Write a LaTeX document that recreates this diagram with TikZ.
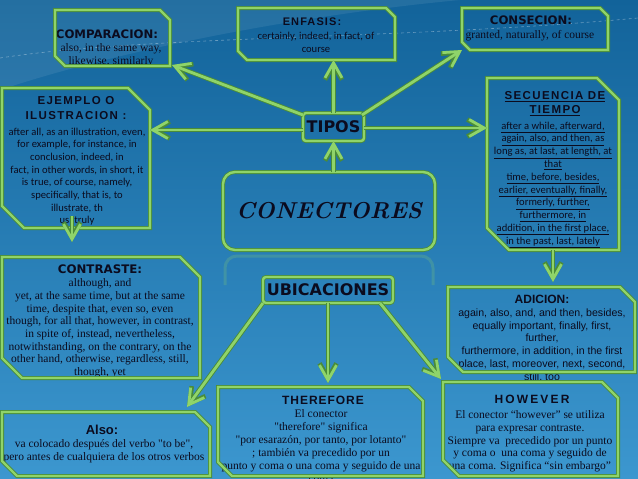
\documentclass[tikz,border=0pt]{standalone}
\usepackage{fontspec}
\newfontfamily\tnr{Liberation Serif}
\newfontfamily\calib{Carlito}
\newfontfamily\arial{Liberation Sans}
\newfontfamily\heavy{DejaVu Sans}
\usetikzlibrary{arrows.meta,calc}
\definecolor{lgreen}{HTML}{8FD46A}
\definecolor{dgreen}{HTML}{4A8C38}
\definecolor{bgtop}{HTML}{12639A}
\definecolor{bgmid}{HTML}{2A80BA}
\definecolor{bgbot}{HTML}{3C97CF}
\definecolor{ink}{HTML}{0B0B1E}
\newcommand\chamfbox[2]{%
  \draw[boxline] (#1.north west) -- ([xshift=-#2pt]#1.north east) -- ([yshift=-#2pt]#1.north east)
    -- (#1.south east) -- ([xshift=#2pt]#1.south west) -- ([yshift=#2pt]#1.south west) -- cycle;}
\begin{document}
\begin{tikzpicture}[x=1pt,y=-1pt,
  boxn/.style={rectangle, inner sep=0pt, outer sep=0pt},
  boxline/.style={draw=dgreen, line width=0.8pt, double=lgreen, double distance=2.4pt, line join=miter},
  rbox/.style={boxn, boxline},
  txt/.style={inner sep=0pt, align=center, text=ink},
  serif/.style={txt, anchor=north, font=\tnr\fontsize{11.5}{12.7}\selectfont},
  calb/.style={txt, anchor=north, font=\calib\fontsize{10.6}{12.7}\selectfont},
  arl/.style={txt, anchor=north, font=\arial\fontsize{10.6}{12.8}\selectfont},
  heavyt/.style={txt, font=\heavy\bfseries\fontsize{11.7}{13}\selectfont},
  arialt/.style={txt, font=\arial\bfseries\fontsize{12}{14}\selectfont},
  arrowtip/.style={-{Straight Barb[length=15pt,width=17pt]}},
  conn/.style={lgreen, line width=2.8pt, arrowtip,
    preaction={draw=dgreen, line width=4.6pt, arrowtip}}
]
\useasboundingbox (0,0) rectangle (638,479);
% background
\shade[top color=bgtop, middle color=bgmid, bottom color=bgbot] (0,0) rectangle (638,479);
\fill[white, opacity=0.08] (0,0) -- (0,90) .. controls (120,50) and (300,15) .. (460,0) -- cycle;
\draw[white, opacity=0.35, dashed, line width=0.6pt] (0,58) .. controls (150,35) and (400,40) .. (638,18);
% reflection of main box
\draw[lgreen, opacity=0.22, line width=3pt, rounded corners=12pt] (225,285) -- (225,256) -- (433,256) -- (433,285);

% box nodes
\node[boxn, minimum width=115pt, minimum height=56pt] (comparacion) at (112.5,38) {};
\node[boxn, minimum width=148pt, minimum height=140pt] (ejemplo) at (76,158) {};
\node[boxn, minimum width=157pt, minimum height=52pt] (enfasis) at (316.5,34) {};
\node[boxn, minimum width=146pt, minimum height=42pt] (consecion) at (535,29) {};
\node[boxn, minimum width=132pt, minimum height=172pt] (secuencia) at (553,164) {};
\node[boxn, minimum width=198pt, minimum height=121pt] (contraste) at (101,317.5) {};
\node[boxn, minimum width=187pt, minimum height=85pt] (adicion) at (541.5,329.5) {};
\node[boxn, minimum width=208pt, minimum height=64pt] (also) at (106,444) {};
\node[boxn, minimum width=205pt, minimum height=89pt] (therefore) at (320.5,431.5) {};
\node[boxn, minimum width=175pt, minimum height=94pt] (however) at (530.5,429) {};

% texts
\node[heavyt] (tcomp) at (107,34) {COMPARACION:};
\node[serif] (bcomp) at (111,43.5) {also, in the same way,\\likewise, similarly};

\node[arialt, font=\arial\bfseries\fontsize{11.5}{15}\selectfont\addfontfeature{LetterSpace=12}, anchor=north] (tejem) at (76,96) {EJEMPLO O\\ILUSTRACION :};
\node[calb] (bejem) at (77,127.5) {after all, as an illustration, even,\\for example, for instance, in\\conclusion, indeed, in\\fact, in other words, in short, it\\is true, of course, namely,\\specifically, that is, to\\illustrate, th\\us, truly};

\node[arialt, font=\arial\bfseries\fontsize{11}{13}\selectfont\addfontfeature{LetterSpace=10}] (tenf) at (312,22) {ENFASIS:};
\node[calb] (benf) at (316,32) {certainly, indeed, in fact, of\\course};

\node[heavyt] (tcons) at (531,20) {CONSECION:};
\node[serif] (bcons) at (530,30) {granted, naturally, of course};

\node[arialt, font=\arial\bfseries\fontsize{11.5}{14}\selectfont\addfontfeature{LetterSpace=12}, anchor=north] (tsec) at (555,91) {\underline{SECUENCIA DE}\\\underline{TIEMPO}};
\node[calb, font=\calib\fontsize{10.6}{12.8}\selectfont] (bsec) at (553,121.5) {\underline{after a while, afterward,}\\\underline{again, also, and then, as}\\\underline{long as, at last, at length, at}\\\underline{that}\\\underline{time, before, besides,}\\\underline{earlier, eventually, finally,}\\\underline{formerly, further,}\\\underline{furthermore, in}\\\underline{addition, in the first place,}\\\underline{in the past, last, lately}};

\node[heavyt, font=\heavy\bfseries\fontsize{11.8}{13}\selectfont] (tcont) at (100,269) {CONTRASTE:};
\node[serif] (bcont) at (100,278.5) {although, and\\yet, at the same time, but at the same\\time, despite that, even so, even\\though, for all that, however, in contrast,\\in spite of, instead, nevertheless,\\notwithstanding, on the contrary, on the\\other hand, otherwise, regardless, still,\\though, yet};

\node[arialt] (tadic) at (542,299) {ADICION:};
\node[arl] (badic) at (542,308.5) {again, also, and, and then, besides,\\equally important, finally, first,\\further,\\furthermore, in addition, in the first\\place, last, moreover, next, second,\\still, too};

\node[arialt, font=\arial\bfseries\fontsize{13}{15}\selectfont] (talso) at (102,430) {Also:};
\node[serif, font=\tnr\fontsize{11.5}{13}\selectfont] (balso) at (104,439.5) {va colocado después del verbo "to be",\\pero antes de cualquiera de los otros verbos};

\node[arialt, font=\arial\bfseries\fontsize{12}{14}\selectfont\addfontfeature{LetterSpace=8}] (tther) at (323,400) {THEREFORE};
\node[serif, font=\tnr\fontsize{11.5}{13}\selectfont] (bther) at (321,409.5) {El conector\\"therefore" significa\\"por esarazón, por tanto, por lotanto"\\; también va precedido por un\\punto y coma o una coma y seguido de una\\coma};

\node[arialt, font=\arial\bfseries\fontsize{12}{14}\selectfont\addfontfeature{LetterSpace=18}] (thow) at (532,399) {HOWEVER};
\node[serif, font=\tnr\fontsize{11.5}{12.75}\selectfont] (bhow) at (530,410.5) {El conector “however” se utiliza\\para expresar contraste.\\Siempre va \ precedido por un punto\\y coma o \ una coma y seguido de\\una coma. Significa “sin embargo”};

% chamfered outlines
\chamfbox{comparacion}{10}
\chamfbox{ejemplo}{22}
\chamfbox{enfasis}{9}
\chamfbox{consecion}{8}
\chamfbox{secuencia}{22}
\chamfbox{contraste}{20}
\chamfbox{adicion}{15}
\chamfbox{also}{15}
\chamfbox{therefore}{14}
\chamfbox{however}{16}

% central nodes
\node[rbox, rounded corners=12pt, minimum width=212pt, minimum height=78pt,
  font=\rmfamily\bfseries\itshape\fontsize{23}{26}\selectfont, text=ink] (conect) at (329,211) {CONECTORES};
\node[rbox, rounded corners=3pt, minimum width=61pt, minimum height=28pt,
  font=\heavy\bfseries\fontsize{16}{18}\selectfont, text=ink] (tipos) at (333.5,127) {TIPOS};
\node[rbox, rounded corners=3pt, minimum width=130pt, minimum height=26pt,
  font=\heavy\bfseries\fontsize{16}{18}\selectfont, text=ink] (ubic) at (328,290) {UBICACIONES};

% connectors
\draw[conn] (tipos.south |- conect.north) -- (tipos.south);
\draw[conn] (tipos.north) -- (tipos.north |- enfasis.south);
\draw[conn] ($(tipos.north east)+(-2,2)$) -- (consecion.south west);
\draw[conn] ($(tipos.north west)+(0,2)$) -- ($(comparacion.south east)+(2,-1)$);
\draw[conn] ($(tipos.west)+(0,3)$) -- ($(tipos.west -| ejemplo.east)+(0,3)$);
\draw[conn] ($(tipos.east)+(0,1)$) -- ($(tipos.east -| secuencia.west)+(0,1)$);
\draw[conn] ($(ejemplo.south)+(-4,-12)$) -- ($(ejemplo.south |- contraste.north)+(-4,-15)$);
\draw[conn] (secuencia.south) -- ($(secuencia.south |- adicion.north)+(0,-5)$);
\draw[conn] (ubic.south west) -- ($(also.north east)+(-23,-5)$);
\draw[conn] (ubic.south) -- ($(ubic.south |- therefore.north)+(0,-4)$);
\draw[conn] ($(ubic.south east)+(-13,0)$) -- ($(however.north west)+(-2,-3)$);
\end{tikzpicture}
\end{document}
